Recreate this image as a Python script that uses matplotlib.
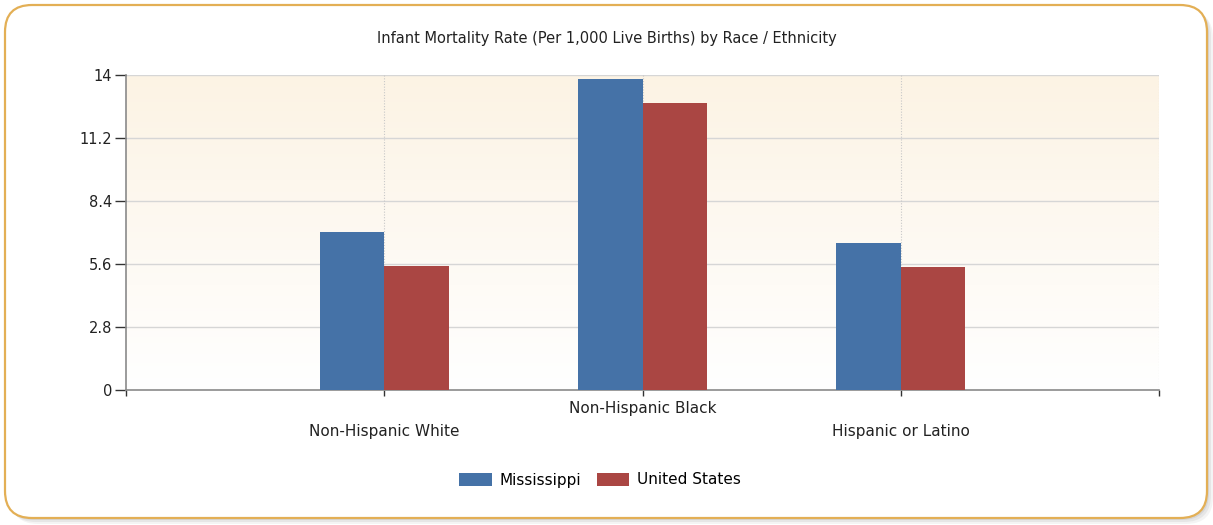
"""Infant mortality rate by race / ethnicity, Mississippi vs United States."""

import matplotlib
matplotlib.use("Agg")
import matplotlib.pyplot as plt
import numpy as np
from matplotlib.patches import FancyBboxPatch

categories = ["Non-Hispanic White", "Non-Hispanic Black", "Hispanic or Latino"]
mississippi = [7.02, 13.81, 6.54]
united_states = [5.52, 12.74, 5.45]
y_ticks = [0, 2.8, 5.6, 8.4, 11.2, 14]
y_tick_labels = ["0", "2.8", "5.6", "8.4", "11.2", "14"]

BLUE = "#4572A7"
RED = "#AA4643"
TEXT = "#222222"

fig = plt.figure(figsize=(12.13, 5.25), dpi=100)
fig.patch.set_facecolor("white")
W, H = 1213, 525
inch = fig.dpi_scale_trans

# rounded frame with a soft shadow (coordinates in inches)
for off, alpha in [(0.06, 0.10), (0.04, 0.15), (0.02, 0.2)]:
    shadow = FancyBboxPatch((0.05 + off, 0.07 - off), 12.02, 5.13,
                            boxstyle="round,pad=0,rounding_size=0.27",
                            transform=inch, facecolor="#999999",
                            edgecolor="none", alpha=alpha, zorder=-3)
    fig.patches.append(shadow)
frame = FancyBboxPatch((0.05, 0.07), 12.02, 5.13,
                       boxstyle="round,pad=0,rounding_size=0.27",
                       transform=inch, facecolor="white",
                       edgecolor="#E3AF55", linewidth=1.6, zorder=-2)
fig.patches.append(frame)

ax = fig.add_axes([126 / W, 1 - 390 / H, (1159 - 126) / W, (390 - 75) / H])
ax.set_zorder(1)
ax.set_xlim(0, 4)
ax.set_ylim(0, 14)

# cream-to-white gradient background
grad = np.linspace(0, 1, 256)
top = np.array([252, 243, 228]) / 255
bottom = np.array([255, 255, 255]) / 255
img = (top[None, :] + (bottom - top)[None, :] * grad[:, None]).reshape(256, 1, 3)
ax.imshow(img, extent=[0, 4, 0, 14], aspect="auto", origin="upper", zorder=0)

x = np.arange(1, len(categories) + 1)
width = 0.25
ax.bar(x - width / 2, mississippi, width, color=BLUE, label="Mississippi", zorder=3)
ax.bar(x + width / 2, united_states, width, color=RED, label="United States", zorder=3)

for y in y_ticks[1:]:
    ax.axhline(y, color="#D6D6D6", linewidth=1, zorder=1)
for xv in [1, 2, 3, 4]:
    ax.axvline(xv, color="#C8C8C8", linewidth=0.8, linestyle=(0, (1, 1.5)), zorder=1)

ax.set_yticks(y_ticks)
ax.set_yticklabels(y_tick_labels, fontsize=10.5, color=TEXT)
ax.set_xticks([0, 1, 2, 3, 4])
ax.set_xticklabels([])
ax.tick_params(axis="y", length=8, width=1, color="#333333", pad=2)
ax.tick_params(axis="x", length=4, width=1, color="#333333")

for i, name in enumerate(categories):
    ypos = -0.8 if i % 2 == 1 else -1.85
    ax.text(x[i], ypos, name, ha="center", va="center", fontsize=11, color=TEXT)

for side in ["top", "right"]:
    ax.spines[side].set_visible(False)
ax.spines["left"].set_color("#8A8A8A")
ax.spines["bottom"].set_color("#8A8A8A")
ax.spines["left"].set_linewidth(1.2)
ax.spines["bottom"].set_linewidth(1.2)

fig.text(607 / W, 1 - 38 / H, "Infant Mortality Rate (Per 1,000 Live Births) by Race / Ethnicity",
         ha="center", va="center", fontsize=10.5, color=TEXT)

fig.legend(loc="center", bbox_to_anchor=(600 / W, 1 - 480 / H), ncol=2, frameon=False,
           fontsize=11, handlelength=2.15, handleheight=0.9, columnspacing=1.0,
           handletextpad=0.5)

fig.savefig("out.png", dpi=100)
